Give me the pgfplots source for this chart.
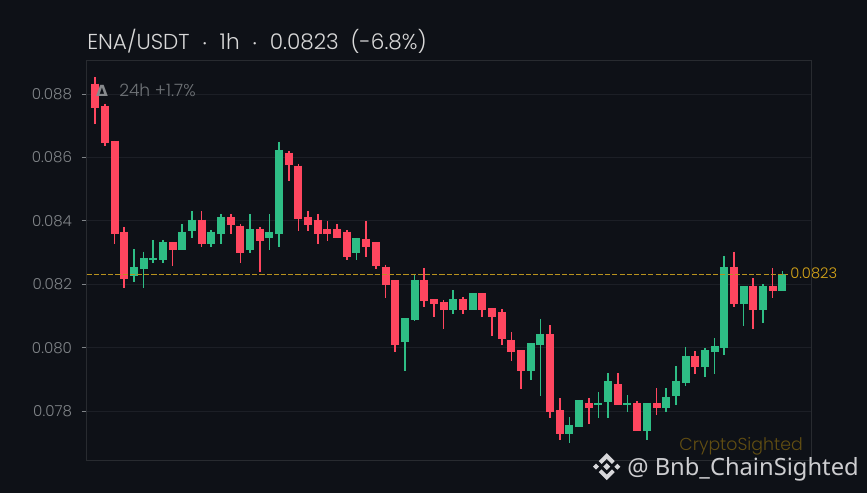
\documentclass[border=0pt]{standalone}
\usepackage{fontspec}
\usepackage{pgfplots}
\usepackage{pgfplotstable}
\pgfplotsset{compat=1.18}
\setmainfont{Poppins}[UprightFont=* Light]
\newfontfamily\wm{Noto Sans}
\newfontfamily\deltafont{DejaVu Sans Bold}
\definecolor{bg}{RGB}{14,17,23}
\definecolor{gridc}{RGB}{28,31,38}
\definecolor{framec}{RGB}{40,43,48}
\definecolor{tickc}{RGB}{128,132,136}
\definecolor{upc}{RGB}{46,189,133}
\definecolor{downc}{RGB}{255,70,95}
\definecolor{goldl}{RGB}{184,146,30}
\definecolor{goldt}{RGB}{214,165,24}
\definecolor{wmgold}{RGB}{98,78,18}
\pgfplotstableread{
x o h l c
1 0.08833 0.08853 0.08706 0.08757
2 0.08763 0.08770 0.08637 0.08646
3 0.08653 0.08653 0.08328 0.08359
4 0.08366 0.08381 0.08189 0.08218
9 0.08334 0.08334 0.08258 0.08309
12 0.08404 0.08432 0.08318 0.08328
15 0.08413 0.08422 0.08359 0.08388
16 0.08385 0.08391 0.08268 0.08299
18 0.08375 0.08381 0.08240 0.08337
21 0.08615 0.08621 0.08527 0.08577
22 0.08574 0.08580 0.08369 0.08407
23 0.08413 0.08432 0.08369 0.08388
24 0.08403 0.08422 0.08328 0.08359
25 0.08375 0.08400 0.08337 0.08359
26 0.08375 0.08391 0.08347 0.08347
27 0.08366 0.08372 0.08277 0.08287
29 0.08344 0.08400 0.08287 0.08318
30 0.08334 0.08334 0.08249 0.08258
31 0.08256 0.08262 0.08158 0.08199
32 0.08214 0.08214 0.07987 0.08009
35 0.08214 0.08252 0.08129 0.08148
36 0.08154 0.08154 0.08098 0.08139
37 0.08145 0.08151 0.08060 0.08120
39 0.08154 0.08161 0.08107 0.08120
41 0.08173 0.08173 0.08098 0.08120
42 0.08126 0.08126 0.08038 0.08098
43 0.08113 0.08123 0.08009 0.08028
44 0.08025 0.08050 0.07959 0.07987
45 0.07993 0.07993 0.07870 0.07927
48 0.08044 0.08072 0.07779 0.07798
49 0.07804 0.07842 0.07710 0.07729
52 0.07826 0.07842 0.07760 0.07811
55 0.07886 0.07921 0.07820 0.07820
57 0.07826 0.07832 0.07737 0.07737
59 0.07826 0.07873 0.07788 0.07811
63 0.07975 0.07990 0.07918 0.07940
67 0.08255 0.08303 0.08129 0.08139
69 0.08195 0.08220 0.08060 0.08120
71 0.08195 0.08252 0.08158 0.08180
}\reddata
\pgfplotstableread{
x o h l c
5 0.08228 0.08312 0.08208 0.08255
6 0.08249 0.08303 0.08189 0.08284
7 0.08277 0.08340 0.08268 0.08284
8 0.08277 0.08340 0.08268 0.08334
10 0.08309 0.08391 0.08309 0.08366
11 0.08369 0.08432 0.08347 0.08404
13 0.08328 0.08372 0.08318 0.08366
14 0.08359 0.08422 0.08328 0.08413
17 0.08309 0.08422 0.08299 0.08375
19 0.08347 0.08422 0.08309 0.08366
20 0.08359 0.08650 0.08318 0.08624
28 0.08299 0.08347 0.08277 0.08347
33 0.08019 0.08094 0.07927 0.08094
34 0.08088 0.08230 0.08085 0.08214
38 0.08120 0.08183 0.08107 0.08154
40 0.08120 0.08173 0.08120 0.08173
46 0.07927 0.08016 0.07899 0.08016
47 0.08009 0.08091 0.07848 0.08044
50 0.07729 0.07782 0.07700 0.07757
51 0.07751 0.07836 0.07751 0.07836
53 0.07820 0.07861 0.07779 0.07826
54 0.07830 0.07921 0.07779 0.07896
56 0.07820 0.07851 0.07798 0.07826
58 0.07737 0.07826 0.07710 0.07826
60 0.07811 0.07873 0.07798 0.07845
61 0.07848 0.07943 0.07820 0.07896
62 0.07889 0.08003 0.07880 0.07975
64 0.07940 0.08000 0.07908 0.07993
65 0.07987 0.08031 0.07918 0.08006
66 0.08000 0.08290 0.07978 0.08255
68 0.08139 0.08195 0.08069 0.08195
70 0.08120 0.08202 0.08079 0.08195
72 0.08180 0.08243 0.08180 0.08233
}\greendata
\pgfplotsset{
  wick/.style={draw=none,forget plot,
    error bars/.cd,y dir=minus,y explicit,error mark=none,
    error bar style={draw=#1,line width=1.25pt}},
  body/.style={draw=none,forget plot,
    error bars/.cd,y dir=minus,y explicit,error mark=none,
    error bar style={draw=#1,line width=6pt}},
}
\begin{document}
\begin{tikzpicture}
\begin{scope}[x=0.75pt,y=0.75pt]
\fill[bg] (0,0) rectangle (867,493);
\end{scope}
\begin{axis}[
  at={(65.02pt,24.38pt)},anchor=south west,scale only axis,
  width=543.5pt,height=300.3pt,
  xmin=0.122,xmax=75,ymin=0.07645,ymax=0.08907,
  xtick=\empty,
  ytick={0.078,0.080,0.082,0.084,0.086,0.088},
  yticklabel style={font=\fontsize{11.3}{14}\selectfont,text=tickc,
    /pgf/number format/fixed,/pgf/number format/fixed zerofill,
    /pgf/number format/precision=3,/pgf/number format/assume math mode=true,xshift=-3.7pt},
  scaled y ticks=false,
  tick align=outside,major tick length=3.8pt,
  major tick style={draw=tickc,line width=0.75pt},
  ytick pos=left,
  ymajorgrids,
  grid style={draw=gridc,line width=0.8pt},
  axis line style={draw=framec,line width=0.8pt},
]
\addplot[wick=downc] table[x=x,y=h,y error minus expr=\thisrow{h}-\thisrow{l}] {\reddata};
\addplot[wick=upc] table[x=x,y=h,y error minus expr=\thisrow{h}-\thisrow{l}] {\greendata};
\addplot[body=downc] table[x=x,y=o,y error minus expr=\thisrow{o}-\thisrow{c}] {\reddata};
\addplot[body=upc] table[x=x,y=c,y error minus expr=\thisrow{c}-\thisrow{o}] {\greendata};
\addplot[color=goldl,line width=0.8pt,dash pattern=on 3.8pt off 1.6pt,forget plot] coordinates {(0.122,0.0823) (72.6,0.0823)};
\end{axis}
\begin{scope}[x=0.75pt,y=0.75pt]
\node[anchor=base west,inner sep=0,text={rgb,255:red,216;green,216;blue,216},font=\fontsize{16.2}{18}\selectfont] at (87,443.7) {ENA/USDT\ \ $\cdot$\ \ 1h\ \ $\cdot$\ \ 0.0823\ \ (-6.8\%)};
\node[anchor=base west,inner sep=0,text={rgb,255:red,112;green,116;blue,120},font=\fontsize{12.8}{13}\selectfont] at (119,396) {24h +1.7\%};
\node[anchor=base,inner sep=0,text={rgb,255:red,135;green,138;blue,141},font=\deltafont\fontsize{11.5}{13}\selectfont] at (102,396) {Δ};
\node[anchor=base west,inner sep=0,text=goldt,font=\fontsize{11}{13}\selectfont] at (790,214) {0.0823};
\node[anchor=base east,inner sep=0,text=wmgold,font=\fontsize{13}{15}\selectfont] at (803,43) {CryptoSighted};
\node[anchor=base west,inner sep=0,text={rgb,255:red,205;green,205;blue,208},font=\wm\fontsize{17.8}{22}\selectfont] at (627,18) {@ Bnb\_ChainSighted};
\begin{scope}[shift={(606.7,26.3)},fill={rgb,255:red,215;green,215;blue,218}]
\fill (0,3.5) -- (3.5,0) -- (0,-3.5) -- (-3.5,0) -- cycle;
\fill (0,13.5) -- (8,5.5) -- (5.2,2.7) -- (0,7.9) -- (-5.2,2.7) -- (-8,5.5) -- cycle;
\fill (0,-13.5) -- (8,-5.5) -- (5.2,-2.7) -- (0,-7.9) -- (-5.2,-2.7) -- (-8,-5.5) -- cycle;
\fill (-13.7,0) -- (-10.7,3) -- (-7.7,0) -- (-10.7,-3) -- cycle;
\fill (13.7,0) -- (10.7,3) -- (7.7,0) -- (10.7,-3) -- cycle;
\end{scope}
\end{scope}
\end{tikzpicture}
\end{document}
